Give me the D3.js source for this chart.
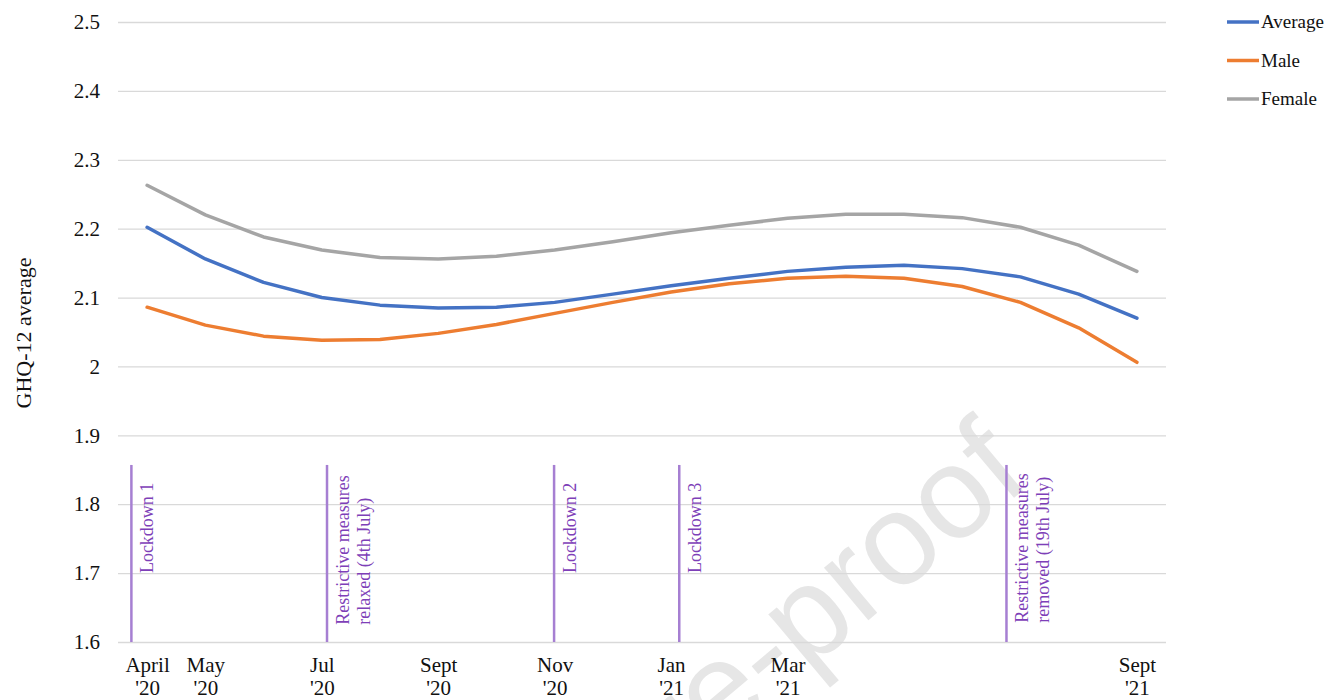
<!DOCTYPE html>
<html><head><meta charset="utf-8">
<script src="https://cdn.jsdelivr.net/npm/d3@7"></script>
<style>
body{margin:0;background:#fff;}
svg{display:block;font-family:"Liberation Serif","Times New Roman",serif;}
</style>
</head><body><svg id="c" width="1343" height="700"></svg>
<script>
// ---- data ----
const months = ["2020-04","2020-05","2020-06","2020-07","2020-08","2020-09","2020-10","2020-11","2020-12",
                "2021-01","2021-02","2021-03","2021-04","2021-05","2021-06","2021-07","2021-08","2021-09"];
const monthLabels = ["April","May","","Jul","","Sept","","Nov","","Jan","","Mar","","","","","","Sept"];
const yearLabels  = ["'20","'20","","'20","","'20","","'20","","'21","","'21","","","","","","'21"];
const average = [2.202,2.156,2.122,2.100,2.089,2.085,2.086,2.093,2.105,2.117,2.128,2.138,2.144,2.147,2.142,2.130,2.105,2.070];
const male    = [2.086,2.060,2.044,2.038,2.039,2.048,2.061,2.077,2.093,2.108,2.120,2.128,2.131,2.128,2.116,2.093,2.056,2.006];
const female  = [2.263,2.220,2.188,2.169,2.158,2.156,2.160,2.169,2.181,2.194,2.205,2.215,2.221,2.221,2.216,2.202,2.176,2.138];
const seriesNames = ["Average","Male","Female"];
const yTicks = [1.6,1.7,1.8,1.9,2.0,2.1,2.2,2.3,2.4,2.5];
const yTickLabels = ["1.6","1.7","1.8","1.9","2","2.1","2.2","2.3","2.4","2.5"];
const eventMonthIndex = [-0.27, 3.09, 6.99, 9.14, 14.76];
const eventLabels = [["Lockdown 1"],["Restrictive measures","relaxed (4th July)"],["Lockdown 2"],["Lockdown 3"],["Restrictive measures","removed (19th July)"]];
const eventLabelStart = [1.70, 1.625, 1.70, 1.70, 1.628];
const eventTopValue = 1.857;

// ---- styles ----
const colors = ["#4472c4","#ed7d31","#a5a5a5"];
const svg = d3.select("#c");
const plotL = 118, plotR = 1166, plotT = 22, plotB = 642;

const x = d3.scalePoint().domain(months).range([plotL, plotR]).padding(0.5);
const y = d3.scaleLinear().domain([1.6, 2.5]).range([plotB, plotT]);
const xi = i => x(months[0]) + i * x.step();

// watermark
svg.append("text")
  .attr("transform", "translate(1033,482) rotate(-40)")
  .attr("text-anchor", "end")
  .attr("font-family", "'Liberation Sans', Arial, sans-serif")
  .attr("font-size", 130)
  .attr("fill", "#e6e6e6")
  .text("Journal Pre-proof");

// y axis + gridlines
const yAxis = d3.axisLeft(y).tickValues(yTicks).tickSize(-(plotR - plotL)).tickPadding(18)
  .tickFormat((d, i) => yTickLabels[i]);
const gy = svg.append("g").attr("transform", `translate(${plotL},0)`).call(yAxis);
gy.select(".domain").remove();
gy.selectAll(".tick line").attr("stroke", "#d9d9d9").attr("stroke-width", 1.3);
gy.selectAll(".tick text").attr("font-family", "'Liberation Serif',serif").attr("font-size", 21).attr("fill", "#111");

// y axis title
svg.append("text")
  .attr("transform", "translate(31,333) rotate(-90)")
  .attr("text-anchor", "middle")
  .attr("font-size", 22).attr("fill", "#111")
  .text("GHQ-12 average");

// x axis labels
const xAxis = d3.axisBottom(x).tickSize(0).tickFormat(() => "");
const gx = svg.append("g").attr("transform", `translate(0,${plotB})`).call(xAxis);
gx.select(".domain").remove();
gx.selectAll(".tick").each(function(d, i) {
  const t = d3.select(this).append("text")
    .attr("text-anchor", "middle").attr("font-family", "'Liberation Serif',serif")
    .attr("font-size", 21).attr("fill", "#111");
  t.append("tspan").attr("x", 0).attr("y", 30).text(monthLabels[i]);
  t.append("tspan").attr("x", 0).attr("y", 53).text(yearLabels[i]);
});

// event lines
eventMonthIndex.forEach((m, k) => {
  const ex = xi(m);
  svg.append("line")
    .attr("x1", ex).attr("x2", ex).attr("y1", y(eventTopValue)).attr("y2", y(1.6))
    .attr("stroke", "#a67fd2").attr("stroke-width", 2.5);
  eventLabels[k].forEach((ln, j) => {
    svg.append("text")
      .attr("transform", `translate(${ex + 22 + j * 21},${y(eventLabelStart[k])}) rotate(-90)`)
      .attr("font-size", 18).attr("fill", "#7e3fb8")
      .text(ln);
  });
});

// series lines
const line = d3.line().x((d, i) => x(months[i])).y(d => y(d));
[average, male, female].forEach((s, k) => {
  svg.append("path").datum(s)
    .attr("d", line)
    .attr("fill", "none").attr("stroke", colors[k]).attr("stroke-width", 3.5)
    .attr("stroke-linejoin", "round").attr("stroke-linecap", "round");
});

// legend
seriesNames.forEach((n, k) => {
  const ly = 22 + k * 38.5;
  svg.append("line").attr("x1", 1227).attr("x2", 1259).attr("y1", ly).attr("y2", ly)
    .attr("stroke", colors[k]).attr("stroke-width", 3.5);
  svg.append("text").attr("x", 1261).attr("y", ly + 6)
    .attr("font-size", 19).attr("fill", "#111").text(n);
});
</script>
</body></html>
